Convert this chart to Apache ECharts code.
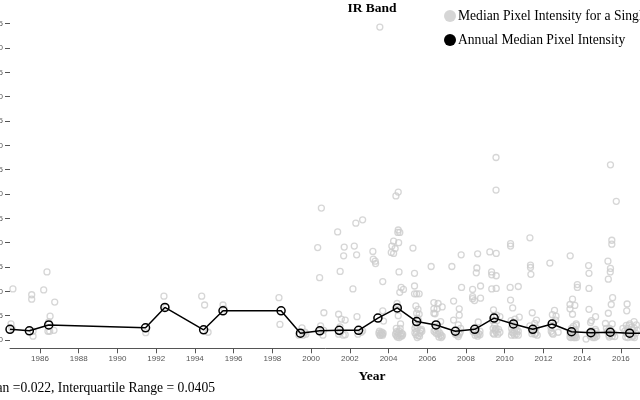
<!DOCTYPE html>
<html lang="en">
<head>
    <meta charset="UTF-8">
    <title>IR Band</title>
    <script src="https://cdn.jsdelivr.net/npm/echarts@6/dist/echarts.min.js"></script>
    <style>
        html, body { margin: 0; padding: 0; background: #fff; overflow: hidden; }
    </style>
</head>
<body>
<div id="chartmain" style="width:640px; height:400px;"></div>
<script type="text/javascript">
    var sceneName = 'Median Pixel Intensity for a Single Scene';
    var annualName = 'Annual Median Pixel Intensity';

    var yearTicks = [1986, 1988, 1990, 1992, 1994, 1996, 1998, 2000, 2002, 2004, 2006, 2008, 2010, 2012, 2014, 2016];
    var valueTicks = [0, 0.05, 0.1, 0.15, 0.2, 0.25, 0.3, 0.35, 0.4, 0.45, 0.5, 0.55, 0.6, 0.65];

    // annual medians
    var annualYears = [1984.45, 1985.45, 1986.45, 1991.45, 1992.45, 1994.45, 1995.45, 1998.45, 1999.45, 2000.45, 2001.45, 2002.45, 2003.45, 2004.45, 2005.45, 2006.45, 2007.45, 2008.45, 2009.45, 2010.45, 2011.45, 2012.45, 2013.45, 2014.45, 2015.45, 2016.45, 2017.45];
    var annualMedians = [0.022, 0.019, 0.031, 0.025, 0.067, 0.021, 0.060, 0.060, 0.014, 0.019, 0.020, 0.020, 0.045, 0.066, 0.038, 0.031, 0.018, 0.022, 0.045, 0.033, 0.022, 0.033, 0.017, 0.015, 0.016, 0.014, 0.014];

    // single scenes [year, median]
    var scenesEarly = [[1984.6,0.105],[1984.5,0.033],[1984.55,0.024],[1985.57,0.093],[1985.57,0.084],[1985.64,0.008],[1985.64,0.018],[1986.36,0.140],[1986.19,0.103],[1986.76,0.078],[1986.52,0.049],[1986.45,0.037],[1986.41,0.018],[1986.5,0.018],[1986.72,0.020]];
    var scenes1990s = [[1991.46,0.015],[1992.4,0.090],[1992.5,0.067],[1994.35,0.090],[1994.5,0.072],[1994.68,0.016],[1995.45,0.072],[1995.5,0.064],[1998.34,0.087],[1998.39,0.032],[1999.53,0.025],[1999.68,0.016],[1999.37,0.010],[1999.58,0.010],[1999.73,0.012]];
    var scenes2000 = [[2000.34,0.190],[2000.44,0.128],[2000.53,0.271],[2000.66,0.056],[2000.49,0.029],[2000.61,0.010],[2000.46,0.021],[2000.65,0.020]];
    var scenes2001 = [[2001.37,0.222],[2001.71,0.191],[2001.68,0.173],[2001.5,0.141],[2001.42,0.053],[2001.56,0.043],[2001.76,0.041],[2001.49,0.027],[2001.42,0.012],[2001.66,0.010],[2001.76,0.011],[2001.52,0.016]];
    var scenes2002 = [[2002.31,0.240],[2002.66,0.247],[2002.23,0.193],[2002.35,0.175],[2002.16,0.105],[2002.37,0.048],[2002.42,0.012],[2002.59,0.016],[2002.66,0.019]];
    var scenes2003 = [[2003.19,0.182],[2003.21,0.166],[2003.31,0.162],[2003.33,0.157],[2003.55,0.643],[2003.7,0.120],[2003.7,0.060],[2003.74,0.039],[2003.5,0.014],[2003.6,0.014],[2003.72,0.014],[2003.55,0.010],[2003.69,0.010],[2003.53,0.018],[2003.65,0.016],[2003.58,0.010],[2003.66,0.012]];
    var scenes2004 = [[2004.5,0.304],[2004.38,0.296],[2004.5,0.226],[2004.48,0.221],[2004.58,0.221],[2004.26,0.203],[2004.52,0.200],[2004.17,0.193],[2004.34,0.188],[2004.14,0.180],[2004.26,0.178],[2004.54,0.140],[2004.65,0.108],[2004.77,0.104],[2004.58,0.098],[2004.44,0.075],[2004.62,0.033],[2004.41,0.017],[2004.55,0.018],[2004.67,0.014],[2004.36,0.012],[2004.5,0.010],[2004.73,0.012],[2004.45,0.006],[2004.64,0.008],[2004.4,0.024],[2004.6,0.024],[2004.48,0.015],[2004.6,0.012],[2004.42,0.009],[2004.55,0.005],[2004.7,0.009],[2004.5,0.050],[2004.45,0.062]];
    var scenes2005 = [[2005.26,0.189],[2005.34,0.137],[2005.34,0.111],[2005.34,0.095],[2005.58,0.095],[2005.45,0.095],[2005.41,0.070],[2005.52,0.063],[2005.58,0.053],[2005.45,0.055],[2005.36,0.024],[2005.7,0.022],[2005.45,0.017],[2005.62,0.014],[2005.36,0.015],[2005.53,0.009],[2005.72,0.018],[2005.4,0.030],[2005.55,0.040],[2005.5,0.025],[2005.42,0.011],[2005.6,0.008],[2005.48,0.005],[2005.65,0.020],[2005.5,0.045]];
    var scenes2006 = [[2006.2,0.151],[2006.34,0.077],[2006.56,0.075],[2006.77,0.068],[2006.34,0.064],[2006.51,0.064],[2006.34,0.055],[2006.4,0.054],[2006.69,0.038],[2006.41,0.021],[2006.56,0.019],[2006.65,0.014],[2006.77,0.008],[2006.45,0.028],[2006.35,0.018],[2006.45,0.014],[2006.55,0.012],[2006.7,0.010],[2006.6,0.006],[2006.72,0.005]];
    var scenes2007 = [[2007.27,0.151],[2007.75,0.175],[2007.36,0.080],[2007.65,0.064],[2007.65,0.051],[2007.36,0.041],[2007.6,0.031],[2007.72,0.024],[2007.5,0.014],[2007.65,0.012],[2007.77,0.108],[2007.45,0.012],[2007.55,0.010],[2007.7,0.016],[2007.6,0.007]];
    var scenes2008 = [[2008.6,0.177],[2008.56,0.148],[2008.53,0.138],[2008.34,0.104],[2008.75,0.111],[2008.75,0.086],[2008.34,0.089],[2008.34,0.085],[2008.44,0.081],[2008.63,0.037],[2008.37,0.017],[2008.55,0.012],[2008.72,0.011],[2008.72,0.018],[2008.47,0.010],[2008.42,0.020],[2008.5,0.016],[2008.6,0.008],[2008.65,0.013]];
    var scenes2009 = [[2009.55,0.375],[2009.55,0.308],[2009.23,0.181],[2009.56,0.178],[2009.32,0.140],[2009.33,0.134],[2009.56,0.132],[2009.33,0.105],[2009.56,0.106],[2009.42,0.062],[2009.58,0.051],[2009.75,0.048],[2009.4,0.024],[2009.56,0.024],[2009.4,0.014],[2009.56,0.016],[2009.75,0.016],[2009.48,0.030],[2009.38,0.040],[2009.45,0.050],[2009.5,0.020],[2009.6,0.040],[2009.45,0.012],[2009.65,0.012],[2009.52,0.022],[2009.68,0.022]];
    var scenes2010 = [[2010.3,0.193],[2010.3,0.198],[2010.28,0.108],[2010.7,0.110],[2010.3,0.082],[2010.41,0.066],[2010.75,0.047],[2010.53,0.043],[2010.33,0.040],[2010.35,0.024],[2010.5,0.018],[2010.35,0.010],[2010.5,0.010],[2010.7,0.010],[2010.7,0.018],[2010.38,0.016],[2010.45,0.014],[2010.55,0.024],[2010.6,0.012],[2010.4,0.030],[2010.62,0.020]];
    var scenes2011 = [[2011.3,0.210],[2011.33,0.154],[2011.33,0.149],[2011.35,0.135],[2011.42,0.056],[2011.64,0.041],[2011.55,0.034],[2011.3,0.029],[2011.5,0.020],[2011.6,0.014],[2011.68,0.010],[2011.4,0.013],[2011.38,0.020],[2011.45,0.017],[2011.55,0.012],[2011.62,0.025]];
    var scenes2012 = [[2012.33,0.158],[2012.57,0.061],[2012.46,0.052],[2012.65,0.049],[2012.63,0.041],[2012.4,0.018],[2012.45,0.014],[2012.76,0.016],[2012.38,0.026],[2012.42,0.030],[2012.5,0.012]];
    var scenes2013 = [[2013.38,0.173],[2013.75,0.114],[2013.75,0.108],[2013.5,0.084],[2013.37,0.073],[2013.62,0.071],[2013.37,0.064],[2013.5,0.053],[2013.69,0.033],[2013.45,0.024],[2013.37,0.014],[2013.5,0.010],[2013.66,0.010],[2013.37,0.006],[2013.57,0.005],[2013.7,0.005],[2013.57,0.020],[2013.4,0.018],[2013.45,0.012],[2013.55,0.014],[2013.62,0.016],[2013.42,0.005],[2013.5,0.006],[2013.62,0.005],[2013.65,0.020],[2013.7,0.030],[2013.55,0.028]];
    var scenes2014 = [[2014.33,0.153],[2014.35,0.137],[2014.35,0.106],[2014.35,0.063],[2014.69,0.048],[2014.48,0.040],[2014.43,0.036],[2014.2,0.002],[2014.48,0.020],[2014.68,0.022],[2014.58,0.008],[2014.75,0.008],[2014.42,0.008],[2014.5,0.012],[2014.6,0.014],[2014.7,0.012],[2014.55,0.005],[2014.65,0.005],[2014.45,0.014],[2014.72,0.018]];
    var scenes2015 = [[2015.46,0.360],[2015.76,0.285],[2015.53,0.205],[2015.53,0.197],[2015.33,0.162],[2015.46,0.147],[2015.45,0.140],[2015.35,0.125],[2015.57,0.087],[2015.5,0.073],[2015.35,0.055],[2015.2,0.034],[2015.55,0.033],[2015.25,0.024],[2015.55,0.008],[2015.68,0.007],[2015.38,0.010],[2015.3,0.018],[2015.42,0.024],[2015.48,0.014],[2015.4,0.006],[2015.5,0.018],[2015.6,0.014]];
    var scenes2016 = [[2016.32,0.074],[2016.3,0.060],[2016.68,0.038],[2016.46,0.033],[2016.28,0.030],[2016.1,0.024],[2016.7,0.024],[2016.36,0.005],[2016.63,0.008],[2016.76,0.014],[2016.48,0.010],[2016.28,0.014],[2016.2,0.018],[2016.35,0.024],[2016.42,0.030],[2016.55,0.026],[2016.62,0.020],[2016.4,0.014],[2016.55,0.006],[2016.7,0.005],[2016.25,0.006],[2016.85,0.020],[2016.8,0.031]];

    var scenePoints = [].concat(scenesEarly, scenes1990s, scenes2000, scenes2001, scenes2002, scenes2003, scenes2004, scenes2005, scenes2006, scenes2007, scenes2008, scenes2009, scenes2010, scenes2011, scenes2012, scenes2013, scenes2014, scenes2015, scenes2016);
    var annualPoints = annualYears.map(function (y, i) { return [y, annualMedians[i]]; });

    var serif = '"Liberation Serif", serif';
    var sans = '"Liberation Sans", Arial, sans-serif';
    var axisGrey = '#555';

    var myChart = echarts.init(document.getElementById('chartmain'));
    myChart.setOption({
        animation: false,
        title: [
            { text: 'IR Band', left: 372, top: 1.5, padding: 0, textAlign: 'center', textStyle: { fontFamily: serif, fontWeight: 'bold', fontSize: 13.5, color: '#000' } },
            { text: 'Year', left: 372, top: 370, padding: 0, textAlign: 'center', textStyle: { fontFamily: serif, fontWeight: 'bold', fontSize: 13.5, color: '#000' } },
            { text: 'Median =0.022, Interquartile Range = 0.0405', left: 215, top: 381, padding: 0, textAlign: 'right', textStyle: { fontFamily: serif, fontWeight: 'normal', fontSize: 13.6, color: '#000' } }
        ],
        legend: {
            orient: 'vertical',
            left: 444,
            top: 9,
            itemGap: 10,
            itemWidth: 12,
            itemHeight: 12,
            padding: 0,
            selectedMode: false,
            textStyle: { fontFamily: serif, fontSize: 13.6, color: '#000', padding: [0, 0, 0, -3] },
            data: [
                { name: sceneName, icon: 'circle', itemStyle: { color: '#ccc', borderWidth: 0 } },
                { name: annualName, icon: 'circle', itemStyle: { color: '#000', borderWidth: 0 } }
            ]
        },
        grid: { left: 10, right: -9, top: 10, bottom: 51.7, outerBoundsMode: 'none' },
        xAxis: {
            type: 'value',
            min: 1984.45,
            max: 2017.45,
            splitLine: { show: false },
            axisLine: { onZero: false, lineStyle: { color: axisGrey, width: 1 } },
            axisTick: { customValues: yearTicks, length: 5, lineStyle: { color: axisGrey } },
            axisLabel: { customValues: yearTicks, margin: 6, fontFamily: sans, fontSize: 8, color: axisGrey, formatter: function (v) { return String(v); } }
        },
        yAxis: {
            type: 'value',
            min: -0.017,
            max: 0.678,
            splitLine: { show: false },
            axisLine: { show: false },
            axisTick: { show: true, customValues: valueTicks, length: 5, lineStyle: { color: axisGrey } },
            axisLabel: { customValues: valueTicks, margin: 7, fontFamily: sans, fontSize: 8, color: axisGrey, formatter: function (v) { return v.toFixed(2); } }
        },
        series: [
            {
                name: sceneName,
                type: 'scatter',
                clip: false,
                symbol: 'circle',
                symbolSize: 6,
                itemStyle: { color: 'transparent', borderColor: '#ccc', borderWidth: 1.3 },
                data: scenePoints
            },
            {
                name: annualName,
                type: 'line',
                clip: false,
                symbol: 'circle',
                symbolSize: 8,
                showAllSymbol: true,
                lineStyle: { color: '#000', width: 1.5 },
                itemStyle: { color: 'transparent', borderColor: '#000', borderWidth: 1.5 },
                data: annualPoints
            }
        ]
    });
</script>
</body>
</html>
